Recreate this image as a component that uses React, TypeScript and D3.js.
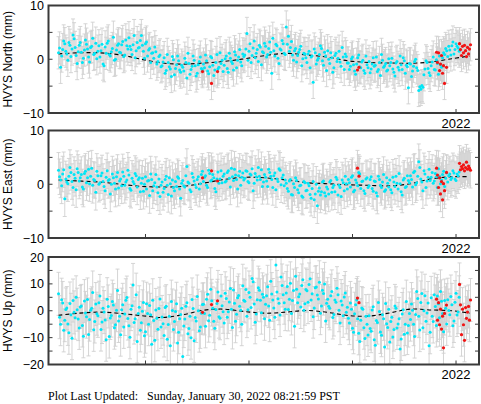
import React from 'react';
import * as d3 from 'd3';

// ---- data (years, mm) ----
// series A: epochs START_YEAR + i*STEP_YEARS ; series B: offset by half a step
const START_YEAR = 2018.16;
const STEP_YEARS = 0.02;
const OFFSET_B = 0.01;

const northValues = [
  1.2, -1.5, 1.8, 2.9, 1.0, 3.1, 0.5, 4.5, 2.2, -0.8,
  2.6, 1.3, 0.2, 3.6, 1.9, -0.5, 2.4, 0.9, 3.0, 1.5,
  0.4, 2.8, -1.2, 1.1, 3.4, 0.6, 2.0, -0.2, 1.7, 2.9,
  1.2, 3.3, 0.8, 2.5, 4.0, 1.8, 2.7, 0.3, 3.1, 2.2,
  4.4, 1.5, 2.9, 0.6, 2.0, 1.1, 0.2, 1.4, -0.4, 0.8,
  -1.2, 0.3, -2.1, -0.6, -1.8, 0.5, -2.9, -1.0, -0.3, -2.4,
  -1.5, 0.2, -3.5, -0.8, -1.9, 0.6, -1.2, -2.6, -0.4, -1.7,
  -0.9, 0.8, -2.2, -1.4, 0.3, -3.0, -0.6, -1.8, 1.2, -0.2,
  -1.1, 0.6, -2.4, 0.2, -0.8, 1.4, -1.6, 0.4, -0.5, 1.0,
  0.8, 4.8, 1.5, -0.6, 2.1, 0.3, 1.8, 2.6, -1.0, 1.2,
  2.4, 0.9, 3.2, -2.6, 1.6, 2.8, 0.2, 1.9, 3.5, 1.1,
  6.0, 4.3, 2.2, 0.8, 1.6, -0.5, 1.3, 2.4, 0.1, 1.0,
  -0.6, 1.5, 0.4, -4.3, 1.2, -0.2, 0.9, 2.0, -1.1, 0.6,
  1.6, -0.8, 0.3, -1.6, 1.1, 0.2, -0.5, 2.2, -1.9, 0.5,
  -0.7, -1.3, 0.4, -2.2, -0.9, 0.8, -1.6, -0.2, -2.6, -1.0,
  -0.4, -1.8, 0.3, -1.1, -2.3, -0.6, 0.9, -1.5, -0.8, -2.0,
  -1.2, 0.2, -2.4, -0.7, -1.5, 0.6, -1.9, -0.3, -1.1, -5.3,
  -0.9, -2.2, -0.4, -1.6, -5.8, -5.6, -5.2, -1.8, -0.6, -2.5,
  -1.2, 0.4, -2.0, -0.8, 0.6, -1.5, 1.2, 2.0, 0.5, 1.7,
  2.5, 1.0, 2.9, 2.1,
];
const northValuesB = [
  2.1, 0.6, 3.4, 1.5, -0.2, 2.6, 1.9, 3.8, 0.7, 1.4,
  3.1, -0.6, 1.7, 2.8, 0.4, 2.2, 3.9, 1.1, 0.1, 2.5,
  1.6, -0.9, 2.3, 3.0, 0.9, 1.4, 4.1, 0.0, 2.6, 1.3,
  2.7, 0.5, 3.6, 1.9, 2.4, 0.9, 4.4, 1.6, 2.1, 3.5,
  2.6, 0.2, 3.2, 1.7, -0.6, 1.2, 2.3, -0.9, 0.5, -1.4,
  -0.5, -2.6, 0.9, -1.4, -3.2, -0.1, -1.7, 0.6, -2.0, -1.1,
  -2.2, -0.6, 1.1, -2.8, -1.3, -0.2, -3.1, -1.0, 0.4, -2.0,
  -1.6, -0.3, -2.7, 0.5, -1.1, -2.0, 0.9, -1.5, -0.8, -2.3,
  0.1, -1.7, 1.1, -0.4, -2.0, 0.8, -0.2, 1.8, -1.2, 0.5,
  1.9, -0.2, 2.9, 0.7, 3.4, 1.1, -0.4, 2.3, 1.4, 3.0,
  0.4, 2.0, 1.3, 3.9, 0.6, 2.5, -0.8, 1.7, 2.9, 0.9,
  2.8, 1.5, 3.3, -0.2, 2.0, 0.7, 1.8, -1.2, 1.1, 0.3,
  1.0, -1.6, 0.6, 1.9, -0.9, 0.2, 2.5, -0.3, 1.3, -2.1,
  0.0, 1.2, -2.4, 0.7, -0.4, 1.5, -1.3, 0.4, 1.0, -0.7,
  -1.9, 0.1, -1.0, -2.8, 0.3, -1.4, -0.5, -2.1, 0.6, -1.6,
  -2.5, -0.9, -1.3, 0.4, -1.9, -3.0, -0.2, -1.2, -2.2, 0.1,
  -0.6, -1.8, -3.1, -0.4, -2.0, -1.0, 0.3, -2.6, -1.4, -0.8,
  -3.2, -1.3, 0.0, -2.1, -5.1, -4.9, -2.9, -0.3, -1.7, -3.0,
  -0.5, -1.9, -0.1, -2.8, -1.0, 0.3, 0.9, 1.6, 2.4, 0.8,
  3.2, 1.8, 2.4, 1.5,
];

const eastValues = [
  2.6, 0.8, 1.9, -2.7, 0.4, 1.5, 2.2, -0.6, 1.1, 2.9,
  0.6, 1.8, -0.9, 2.4, 1.2, 0.1, 3.0, 0.9, -1.5, 1.6,
  0.3, 2.1, -0.4, 1.3, 0.7, -1.8, 1.9, 0.2, 1.4, -0.7,
  1.0, 2.3, -0.2, 0.8, 1.7, -1.1, 0.5, 2.0, -0.5, 1.2,
  0.2, -1.3, 1.4, 0.6, -2.1, 0.9, -0.3, 1.8, -1.6, -2.3,
  0.4, -0.8, 1.5, -1.9, 0.1, 0.8, -1.2, -0.4, 1.1, -2.6,
  0.7, -0.5, 3.3, 0.2, -1.4, 1.3, -0.1, 0.9, -0.9, 1.8,
  0.5, 1.6, -0.6, 2.0, 0.8, 1.2, -1.4, 2.3, 1.0, 0.3,
  1.9, 0.6, 2.5, -0.5, 1.4, 2.8, 0.9, 1.6, -0.2, 2.1,
  1.1, 2.4, 0.3, 1.7, -1.2, 2.0, 0.8, 1.5, 2.7, 0.4,
  1.3, -0.4, 2.2, 0.9, 1.6, -1.0, 0.5, 2.6, 1.2, -0.3,
  0.2, -1.3, 0.9, -2.0, -0.6, 0.7, -1.6, -0.2, -2.4, 0.3,
  -1.1, -0.3, -2.6, 0.5, -1.8, -4.0, -0.7, -1.4, 0.6, -2.2,
  -0.9, 0.4, -1.5, -0.2, 1.3, -2.0, -0.6, 0.8, -1.2, 0.1,
  0.9, -0.5, 1.6, -1.1, 0.3, 2.2, -0.8, 0.6, -1.7, 1.2,
  -0.3, 1.4, -1.3, 0.5, -2.2, 0.9, -0.6, 1.8, -1.0, 0.2,
  0.8, -1.6, 0.4, 1.5, -0.9, 0.1, -2.0, 1.1, -0.4, 0.7,
  1.6, -0.5, 2.4, 0.3, 4.2, 1.0, -1.2, 1.9, 0.6, 2.8,
  1.3, 0.2, 2.0, -0.6, 1.5, 0.8, 2.4, 1.1, 0.4, 1.9,
  1.2, 2.1, 0.7, 1.6,
];
const eastValuesB = [
  1.4, -0.3, 2.7, 1.0, 0.1, 3.1, 0.5, 1.8, -1.0, 2.2,
  1.2, -0.5, 2.0, 0.3, 2.8, 1.5, -0.2, 0.7, 2.4, 0.0,
  1.6, 0.5, -1.2, 2.5, 0.9, 0.0, 1.2, -0.9, 2.2, 0.6,
  -0.3, 1.5, 0.4, 2.6, -0.8, 1.1, 0.1, 1.6, 0.9, -1.4,
  1.1, 0.0, -0.9, 0.7, 1.9, -1.2, 0.3, -0.5, 1.0, -0.2,
  -1.5, 0.9, -0.2, 1.2, -2.2, -0.6, 0.5, 1.4, -0.9, 0.2,
  -0.3, 1.6, 0.4, -1.0, 2.0, 0.6, -0.6, 1.4, 0.1, 2.4,
  1.3, -0.2, 2.6, 0.6, 1.8, -0.8, 1.0, 0.2, 2.5, 1.5,
  0.4, 2.2, 1.1, 3.0, 0.7, 1.7, -0.9, 2.4, 1.3, 0.8,
  2.5, 0.5, 1.9, 2.9, 0.2, 1.4, 3.1, 0.9, -0.4, 1.8,
  0.6, 2.8, 1.5, -0.6, 2.1, 1.0, 2.9, -0.1, 1.7, 0.8,
  -0.8, 0.6, -1.9, 0.1, 1.2, -1.0, -0.3, -2.2, 0.5, -1.2,
  0.2, -1.9, -0.8, -2.9, 0.0, -1.3, -2.0, 0.4, -1.6, -0.5,
  -1.8, 0.7, -0.6, -1.4, 0.9, -0.2, -2.3, 0.3, 1.5, -0.9,
  0.3, 1.3, -1.4, 0.8, -0.3, 1.9, 0.5, -1.2, 1.0, -0.6,
  0.9, -0.8, 0.6, -1.6, 1.5, -0.2, 0.4, -1.3, 1.2, -0.5,
  -1.0, 1.3, -0.4, 0.2, 2.0, -1.4, 0.8, -0.6, 1.6, 0.3,
  0.9, 2.2, -0.1, 1.5, 3.1, 0.4, 2.5, -0.6, 1.3, 0.7,
  2.2, 0.6, 1.4, 2.9, 0.1, 1.8, -0.4, 2.1, 1.6, 0.9,
  2.5, 1.0, 1.9, 2.3,
];

const upValues = [
  6.3, -5.0, 2.9, -3.5, 1.0, -8.2, -1.5, 3.8, -2.6, 0.4,
  -6.4, 1.8, -9.5, -0.8, 4.2, -3.3, 0.9, -7.1, 2.5, -1.9,
  5.5, -4.2, -0.5, -10.8, 1.6, -2.7, 3.4, -6.3, 0.2, -3.8,
  -8.9, 2.2, -1.2, 4.9, -5.6, 0.6, 9.6, -3.0, -11.4, 1.3,
  -4.5, 3.1, -7.8, -1.0, 2.0, -12.5, -3.6, 0.3, -6.9, 4.4,
  -2.3, -9.2, 1.7, -5.1, -13.0, 0.1, -4.0, 2.6, -8.0, -1.4,
  -17.0, -3.1, 3.0, -6.6, -10.0, 0.8, -2.5, 5.3, -7.4, -0.9,
  2.4, -5.8, 6.1, -1.7, 3.7, -3.9, 0.5, 7.0, -2.8, 1.9,
  -4.6, 4.6, -0.4, 8.3, -6.2, 2.8, -1.3, 5.7, 0.2, 9.3,
  3.5, -2.0, 6.8, 1.2, 10.8, -4.3, 4.1, 7.6, -0.7, 5.0,
  2.4, 8.9, -3.5, 6.2, 1.0, 17.0, 4.5, -1.6, 9.4, 3.0,
  6.6, 0.5, 10.2, 3.8, -5.8, 8.0, 5.2, 1.4, 11.5, 2.6,
  7.4, 9.8, 4.0, -2.2, 8.6, 5.9, 10.6, 1.8, 6.4, -3.8,
  4.3, 0.9, 7.2, -1.4, 3.2, 6.0, -4.6, 2.1, 5.1, -0.6,
  -2.8, 2.9, -6.5, -1.1, 4.0, -8.4, -3.5, 0.6, -10.3, -5.0,
  -1.9, -7.6, 1.5, -12.8, -4.4, -0.3, -9.1, -3.0, 2.7, -6.2,
  -11.6, -2.4, -7.0, 0.9, -4.9, -14.2, -1.2, -8.7, 3.4, -5.5,
  -3.3, 0.2, -9.6, 7.2, -2.0, 3.1, -6.3, 5.6, -0.8, -13.0,
  4.8, -4.0, 1.6, 5.5, -2.6, 3.5, -7.8, 0.9, 4.1, -1.5,
  2.2, -3.8, 6.5, -0.5,
];
const upValuesB = [
  -2.4, 4.1, -7.3, 0.5, -4.9, 2.7, -10.2, -0.6, 5.0, -3.1,
  1.4, -5.5, 3.6, -2.2, -8.8, 0.2, 6.8, -4.0, -1.1, 3.0,
  -7.0, 0.9, -3.4, 4.3, -9.6, -1.8, 2.1, -5.2, 7.5, -2.0,
  0.4, -6.0, 3.9, -2.9, -9.9, 1.9, -4.4, 6.0, -1.0, -7.3,
  -0.2, -9.3, 2.6, -5.0, -1.5, 3.9, -11.0, -2.8, 0.8, -6.0,
  -4.8, 1.2, -10.6, -2.0, 3.4, -7.0, -0.3, -12.0, -3.0, 0.9,
  -5.7, 1.7, -8.6, -2.0, 4.2, -11.2, -3.8, 0.0, -6.0, 2.3,
  -1.0, 4.3, -3.7, 8.0, 0.9, -6.5, 2.7, -2.2, 5.5, -0.4,
  6.5, -2.4, 3.3, 0.6, 7.7, -3.9, 4.8, 1.7, -5.0, 3.9,
  7.9, 0.4, 5.0, 12.0, 2.5, -1.2, 8.6, 3.9, 6.1, -3.0,
  5.6, 1.8, 11.0, 4.0, -2.4, 7.0, 2.8, 12.6, 6.0, 0.6,
  9.0, 4.3, -1.0, 7.5, 12.8, 3.0, 6.2, 9.4, 0.2, 7.9,
  3.2, 11.9, 6.3, 1.0, 8.8, 4.4, -0.9, 7.6, 10.0, 2.8,
  1.7, 5.6, -2.5, 4.0, 8.4, 0.2, 3.6, -1.9, 6.6, 1.3,
  -4.6, 0.6, -8.0, 2.2, -3.0, -11.4, 1.0, -6.3, -2.0, -9.0,
  -6.6, 0.3, -10.8, -3.6, 3.1, -7.9, -1.5, -13.5, -4.8, 0.6,
  -4.0, -9.8, 1.8, -6.4, -3.0, -10.5, 0.4, -5.0, -8.3, -1.0,
  2.5, -5.0, -1.4, 4.6, -7.2, 6.4, 0.0, -3.9, 2.9, -8.0,
  -2.0, 6.0, -5.5, 2.6, 7.2, -1.0, 3.8, -4.9, 0.1, 5.3,
  -5.6, 3.2, -1.6, 5.0,
];

const redYears = [
  2019.551, 2019.638, 2019.696, 2021.048, 2021.063,
  2021.812, 2021.821, 2021.831, 2021.841, 2021.85, 2021.86, 2021.87, 2021.879, 2021.889, 2021.908,
  2022.034, 2022.043, 2022.053, 2022.063, 2022.072, 2022.082, 2022.092, 2022.101, 2022.111, 2022.121, 2022.13, 2022.14,
];
const northRed = [
  -2.3, -4.5, -2.3, -2.0, -1.5,
  1.3, -0.6, 1.2, -2.1, -0.9, 0.7, -2.6, -1.2, -4.5, -1.5,
  2.9, 1.8, 0.7, 2.4, 1.2, 2.6, 1.6, 0.5, 2.2, 1.0, 1.9, 2.7,
];
const eastRed = [
  1.2, 2.5, 0.6, 3.0, 1.5,
  3.0, 1.7, -0.6, 1.2, -1.8, 0.5, -2.9, 0.1, -1.2, 2.2,
  3.9, 2.7, 3.3, 2.9, 3.6, 2.5, 3.1, 4.1, 2.8, 3.4, 3.0, 2.6,
];
const upRed = [
  -0.6, 2.3, 3.7, 4.7, 3.0,
  4.3, -3.5, 3.0, -5.2, 0.6, -6.8, -2.0, -13.8, -1.0, 2.1,
  9.8, 2.2, -8.9, 0.6, -5.2, -11.0, 1.2, -2.8, -0.5, 1.6, -3.5, 4.0,
];

const trendYears = [
  2018.16, 2018.36, 2018.56, 2018.76, 2018.96, 2019.16, 2019.36, 2019.56, 2019.76, 2019.96,
  2020.16, 2020.36, 2020.56, 2020.76, 2020.96, 2021.16, 2021.36, 2021.56, 2021.76, 2021.96, 2022.13,
];
const northTrend = [1.0, 1.2, 1.2, 0.8, 0.0, -0.7, -0.9, -0.7, -0.4, 0.1, 0.7, 1.1, 0.8, 0.4, -0.3, -0.6, -0.7, -0.75, -0.5, 0.1, 0.6];
const eastTrend = [0.8, 0.6, 0.4, 0.0, -0.4, -0.5, -0.4, 0.2, 0.9, 1.3, 1.2, 0.8, 0.3, 0.1, -0.1, -0.2, -0.3, 0.1, 1.0, 1.4, 1.4];
const upTrend = [-1.7, -0.9, -0.5, -1.0, -1.8, -2.5, -1.5, 0.2, 0.6, -0.3, -0.9, -0.5, 0.1, -0.6, -1.8, -2.0, -0.8, 0.6, 0.3, 0.0, -0.9];

const yearTicks = [2019, 2020, 2021, 2022];
const yearLabelTicks = [2022];
const panelLabels = ['HVYS North (mm)', 'HVYS East (mm)', 'HVYS Up (mm)'];
const panelSigmas = [3.0, 3.3, 8.0];
const footerText = 'Plot Last Updated:   Sunday, January 30, 2022 08:21:59 PST';

const panels = [
  { label: panelLabels[0], values: northValues, valuesB: northValuesB, red: northRed, trend: northTrend, sigma: panelSigmas[0], domain: [-10, 10], ticks: [-10, -5, 0, 5, 10], labels: [-10, 0, 10] },
  { label: panelLabels[1], values: eastValues, valuesB: eastValuesB, red: eastRed, trend: eastTrend, sigma: panelSigmas[1], domain: [-10, 10], ticks: [-10, -5, 0, 5, 10], labels: [-10, 0, 10] },
  { label: panelLabels[2], values: upValues, valuesB: upValuesB, red: upRed, trend: upTrend, sigma: panelSigmas[2], domain: [-20, 20], ticks: [-20, -15, -10, -5, 0, 5, 10, 15, 20], labels: [-20, -10, 0, 10, 20] },
];

const W = 481;
const H = 404;
const LEFT = 48.5;
const RIGHT = 479;
const PANEL_H = 107.5;
const TOPS = [5.5, 130.5, 257];
const CYAN = '#00e6f6';
const RED = '#f01414';
const BAR = '#d0d0d0';
const FRAME = '#3a3a3a';
const SANS = '"Liberation Sans", Arial, Helvetica, sans-serif';

function fmt(v: number) {
  return v < 0 ? '\u2212' + Math.abs(v) : String(v);
}

export default function App() {
  const x = d3.scaleLinear().domain([2018.063, 2022.222]).range([LEFT, RIGHT]);

  return (
    <svg width={W} height={H} style={{ position: 'absolute', left: 0, top: 0, background: '#fff' }}>
      <defs>
        {panels.map((p, k) => (
          <clipPath id={`clip${k}`} key={k}>
            <rect x={LEFT} y={TOPS[k]} width={RIGHT - LEFT} height={PANEL_H} />
          </clipPath>
        ))}
      </defs>
      <rect x={0} y={0} width={W} height={H} fill="#fff" />
      {panels.map((p, k) => {
        const top = TOPS[k];
        const y = d3.scaleLinear().domain(p.domain).range([top + PANEL_H, top]);
        const ptsA = p.values.map((v, i) => ({ t: START_YEAR + i * STEP_YEARS, v }));
        const ptsB = p.valuesB.map((v, i) => ({ t: START_YEAR + OFFSET_B + i * STEP_YEARS, v }));
        const pts = ptsA.concat(ptsB);
        const reds = p.red.map((v, i) => ({ t: redYears[i], v }));
        const all = pts.concat(reds);
        const line = d3
          .line<number>()
          .x((_, i) => x(trendYears[i]))
          .y((d) => y(d))
          .curve(d3.curveCatmullRom.alpha(0.5));
        const s = p.sigma;
        return (
          <g key={k}>
            <g clipPath={`url(#clip${k})`}>
              {all.map((d, i) => {
                const cx = x(d.t);
                const y1 = y(d.v + s);
                const y2 = y(d.v - s);
                return (
                  <g key={i} stroke={BAR} strokeWidth={0.9}>
                    <line x1={cx} x2={cx} y1={y1} y2={y2} />
                    <line x1={cx - 2} x2={cx + 2} y1={y1} y2={y1} />
                    <line x1={cx - 2} x2={cx + 2} y1={y2} y2={y2} />
                  </g>
                );
              })}
              <path d={line(p.trend) || ''} fill="none" stroke="#000" strokeWidth={1.1} strokeDasharray="4,3" />
              {pts.map((d, i) => (
                <circle key={i} cx={x(d.t)} cy={y(d.v)} r={1.5} fill={CYAN} />
              ))}
              {reds.map((d, i) => (
                <circle key={i} cx={x(d.t)} cy={y(d.v)} r={1.6} fill={RED} />
              ))}
            </g>
            {p.ticks.map((t) => (
              <g key={t} stroke={FRAME} strokeWidth={1}>
                <line x1={LEFT} x2={LEFT + 4} y1={y(t)} y2={y(t)} />
                <line x1={RIGHT - 4} x2={RIGHT} y1={y(t)} y2={y(t)} />
              </g>
            ))}
            {yearTicks.map((t) => (
              <line key={t} x1={x(t)} x2={x(t)} y1={top + PANEL_H} y2={top + PANEL_H - 4} stroke={FRAME} strokeWidth={1} />
            ))}
            <rect x={LEFT} y={top} width={RIGHT - LEFT} height={PANEL_H} fill="none" stroke={FRAME} strokeWidth={2} />
            {p.labels.map((t) => (
              <text key={t} x={44} y={y(t)} dy="0.36em" textAnchor="end" fontFamily={SANS} fontSize={12.5} fill="#000">
                {fmt(t)}
              </text>
            ))}
            {yearLabelTicks.map((t) => (
              <text key={t} x={x(t)} y={top + PANEL_H + 14.5} textAnchor="middle" fontFamily={SANS} fontSize={13} fill="#000">
                {t}
              </text>
            ))}
            <text
              transform={`translate(12,${top + PANEL_H / 2}) rotate(-90)`}
              textAnchor="middle"
              fontFamily={SANS}
              fontSize={12}
              fill="#000"
            >
              {p.label}
            </text>
          </g>
        );
      })}
      <text x={48} y={400} fontFamily='"Liberation Serif", "Times New Roman", serif' fontSize={12} fill="#000" style={{ whiteSpace: 'pre' }}>
        {footerText}
      </text>
    </svg>
  );
}
